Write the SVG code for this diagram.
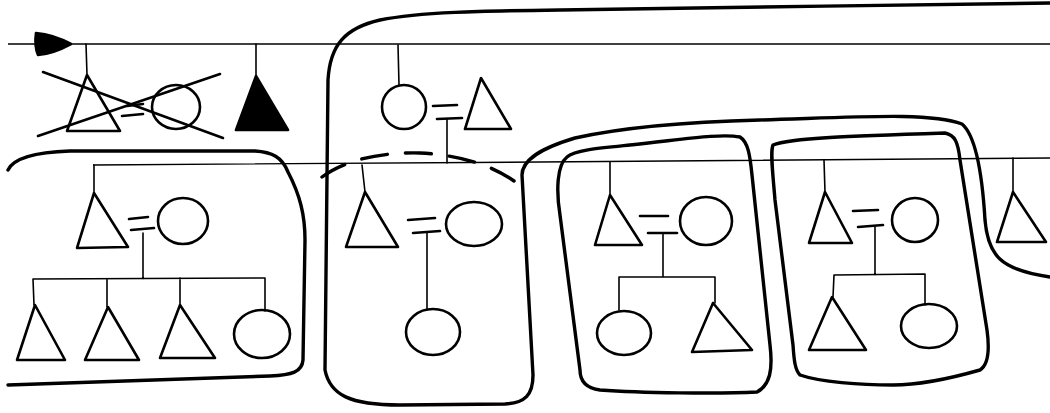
<svg xmlns="http://www.w3.org/2000/svg" width="1050" height="413" viewBox="0 0 1050 413">
<style>
.sym{fill:none;stroke:#000;stroke-width:2.6;stroke-linejoin:round;stroke-linecap:round}
.blk{fill:#000;stroke:#000;stroke-width:2.6;stroke-linejoin:round}
.ln{fill:none;stroke:#000;stroke-width:1.6;stroke-linecap:round}
.eq{fill:none;stroke:#000;stroke-width:2.6;stroke-linecap:round}
.gen{fill:none;stroke:#000;stroke-width:1.4}
.box{fill:none;stroke:#000;stroke-width:3.4;stroke-linejoin:round;stroke-linecap:round}
.dash{fill:none;stroke:#000;stroke-width:3.4;stroke-linecap:round;stroke-dasharray:26 18}
</style>
<rect width="1050" height="413" fill="#fff"/>
<g id="generations">
<path class="gen" d="M8,44 L1050,44"/>
<path class="gen" d="M93,165 L540,162 L1050,158"/>
</g>
<g id="outlines">
<path id="outline-main" class="box" d="M1050,3 C900,5 700,8 560,10 C480,11 420,12 380,20 C345,28 330,45 328,80 L325,370 C330,395 350,405 400,405 L505,404 C525,403 533,395 533,375 L522,175 C522,162 535,150 575,138 C620,128 680,122 760,120 C860,117 930,112 962,124 C975,135 982,170 985,220 C988,255 1000,270 1050,277"/>
<path id="dashed-arc" class="dash" d="M322,177 C345,160 380,152 420,153 C460,155 495,165 522,187"/>
<path id="box-left" class="box" d="M8,170 C14,157 40,152 70,151 L255,151 C272,152 282,157 288,172 C300,195 305,215 305,240 L303,360 C302,372 292,375 270,376 L8,385"/>
<path id="box-3" class="box" d="M567,157 C575,150 600,148 630,145 C680,140 720,133 740,137 C748,142 750,155 752,175 L770,345 C773,370 770,385 757,392 C720,394 640,393 600,390 C585,388 580,380 580,370 L560,215 C556,190 557,165 567,157 Z"/>
<path id="box-4" class="box" d="M773,145 C790,138 850,136 945,133 C955,135 958,142 960,160 L987,330 C990,352 988,365 980,370 C945,380 915,385 893,385 C860,385 820,382 800,375 C795,370 794,360 793,345 L775,200 C773,175 770,152 773,145 Z"/>
</g>
<g id="node-flag"><path class="blk" d="M36,33 C48,34 60,38 71,44 C60,50 48,54 38,55 C35,48 35,40 36,33 Z"/></g>
<g id="node-crossed-couple">
<path class="ln" d="M86,44 L87,75"/>
<path class="sym" d="M87,75 L67,131 L120,131 Z"/>
<ellipse class="sym" cx="176" cy="107" rx="24" ry="22"/>
<path class="eq" d="M127,106 L143,104"/>
<path class="eq" d="M122,116 L143,114"/>
<path class="eq" d="M43,72 L223,138"/>
<path class="eq" d="M38,136 L220,74"/>
</g>
<g id="node-black-triangle">
<path class="ln" d="M256,44 L256,76"/>
<path class="blk" d="M256,76 L236,130 L288,130 Z"/>
</g>
<g id="node-top-couple">
<path class="ln" d="M398,45 L399,85"/>
<ellipse class="sym" cx="404" cy="107" rx="22" ry="22"/>
<path class="eq" d="M433,106 L457,105"/>
<path class="eq" d="M437,119 L462,118"/>
<path class="ln" d="M447,119 L447,163"/>
<path class="sym" d="M481,78 L465,129 L511,129 Z"/>
</g>
<g id="node-left-family">
<path class="ln" d="M94,165 L94,193"/>
<path class="sym" d="M94,193 L77,248 L128,247 Z"/>
<path class="eq" d="M129,219 L148,217"/>
<path class="eq" d="M131,230 L154,228"/>
<ellipse class="sym" cx="183" cy="221" rx="25" ry="23"/>
<path class="ln" d="M143,233 L143,279 M33,279 L265,278 M33,279 L34,305 M107,279 L107,307 M180,278 L180,305 M265,278 L265,311"/>
<path class="sym" d="M35,305 L17,360 L65,360 Z"/>
<path class="sym" d="M108,307 L85,360 L139,360 Z"/>
<path class="sym" d="M180,305 L160,358 L215,358 Z"/>
<ellipse class="sym" cx="262" cy="334" rx="28" ry="24"/>
</g>
<g id="node-middle-family">
<path class="ln" d="M362,165 L365,192"/>
<path class="sym" d="M365,192 L346,247 L398,247 Z"/>
<path class="eq" d="M408,220 L435,218"/>
<path class="eq" d="M413,233 L440,231"/>
<ellipse class="sym" cx="474" cy="224" rx="28" ry="22"/>
<path class="ln" d="M427,233 L427,310"/>
<ellipse class="sym" cx="433" cy="332" rx="27" ry="23"/>
</g>
<g id="node-family-3">
<path class="ln" d="M610,162 L610,195"/>
<path class="sym" d="M610,195 L595,245 L642,245 Z"/>
<path class="eq" d="M640,216 L668,216"/>
<path class="eq" d="M648,233 L677,233"/>
<ellipse class="sym" cx="706" cy="221" rx="26" ry="24"/>
<path class="ln" d="M663,233 L663,277 M619,277 L715,277 M619,277 L619,310 M715,277 L715,303"/>
<ellipse class="sym" cx="624" cy="333" rx="27" ry="22"/>
<path class="sym" d="M713,303 L692,352 L752,350 Z"/>
</g>
<g id="node-family-4">
<path class="ln" d="M824,160 L825,192"/>
<path class="sym" d="M825,192 L809,243 L852,243 Z"/>
<path class="eq" d="M853,211 L878,210"/>
<path class="eq" d="M858,227 L883,225"/>
<ellipse class="sym" cx="915" cy="220" rx="23" ry="22"/>
<path class="ln" d="M875,227 L875,275 M834,275 L925,274 M834,275 L833,297 M925,274 L925,305"/>
<path class="sym" d="M832,297 L809,350 L866,350 Z"/>
<ellipse class="sym" cx="929" cy="326" rx="28" ry="22"/>
</g>
<g id="node-right-triangle">
<path class="ln" d="M1013,158 L1013,192"/>
<path class="sym" d="M1013,192 L997,242 L1046,242 Z"/>
</g>
</svg>
